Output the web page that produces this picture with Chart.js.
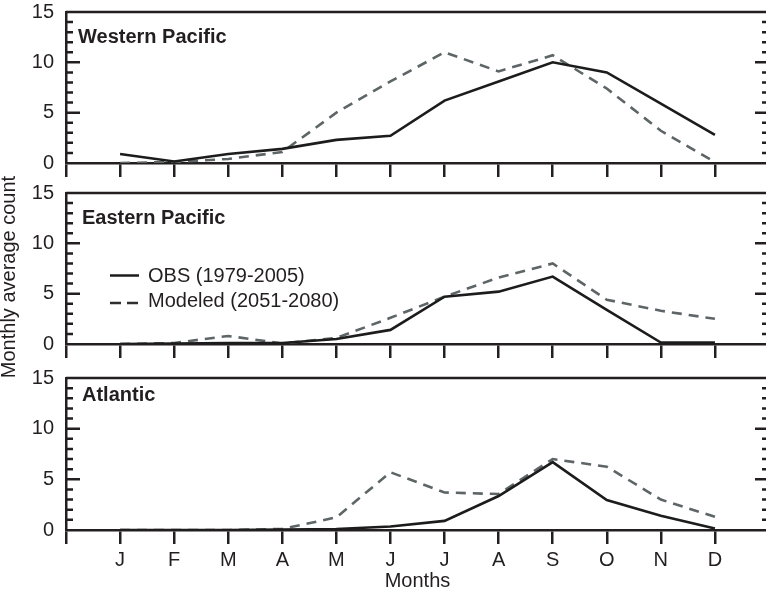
<!DOCTYPE html>
<html>
<head>
<meta charset="utf-8">
<script src="https://cdn.jsdelivr.net/npm/chart.js@4.4.0/dist/chart.umd.min.js"></script>
<style>
  html, body { margin: 0; padding: 0; background: #fff; overflow: hidden; }
  body { width: 766px; height: 593px; position: relative; }
  canvas { position: absolute; left: 0; }
</style>
</head>
<body>
<canvas id="wp" width="772" height="190" style="top:0px"></canvas>
<canvas id="ep" width="772" height="250" style="top:150px"></canvas>
<canvas id="at" width="772" height="233" style="top:360px"></canvas>
<script>
// meses e contagens medias mensais por bacia
var meses = ["J", "F", "M", "A", "M", "J", "J", "A", "S", "O", "N", "D"];
var yTicks = [0, 5, 10, 15];

var wpObs = [0.9, 0.15, 0.9, 1.4, 2.3, 2.7, 6.2, 8.1, 10.0, 9.0, 5.9, 2.8];
var wpMod = [0.0, 0.1, 0.4, 1.1, 5.0, 8.1, 11.0, 9.1, 10.7, 7.4, 3.2, 0.1];

var epObs = [0.0, 0.05, 0.1, 0.1, 0.5, 1.4, 4.7, 5.2, 6.7, 3.4, 0.15, 0.15];
var epMod = [0.0, 0.1, 0.8, 0.05, 0.6, 2.6, 4.7, 6.6, 8.0, 4.4, 3.3, 2.5];

var atObs = [0.0, 0.0, 0.0, 0.05, 0.1, 0.35, 0.9, 3.35, 6.7, 2.95, 1.4, 0.15];
var atMod = [0.0, 0.0, 0.0, 0.1, 1.25, 5.7, 3.7, 3.55, 7.0, 6.25, 3.0, 1.3];

var legendas = ["OBS (1979-2005)", "Modeled (2051-2080)"];

var cor = "#231f20";
var corObs = "#1c1c1c";
var corMod = "#5d6567";

Chart.defaults.font.family = "'Liberation Sans', Arial, Helvetica, sans-serif";
Chart.defaults.font.size = 20;
Chart.defaults.color = cor;

function pontos(vals) {
    return vals.map(function (v, i) { return { x: i + 1, y: v }; });
}

// moldura de cima/direita, ticks internos e textos do painel
function pluginPainel(cfg) {
    return {
        id: "painel",
        afterDraw: function (chart) {
            var ctx = chart.ctx;
            var a = chart.chartArea;
            var y = chart.scales.y;
            ctx.save();
            ctx.strokeStyle = cor;
            ctx.lineWidth = 2.5;
            ctx.beginPath();
            ctx.moveTo(a.left, a.top);
            ctx.lineTo(a.right, a.top);
            ctx.moveTo(a.right, a.top);
            ctx.lineTo(a.right, a.bottom);
            for (var v = 1; v < 15; v++) {
                var py = y.getPixelForValue(v);
                var len = yTicks.indexOf(v) >= 0 ? 14 : 7;
                ctx.moveTo(a.left, py);
                ctx.lineTo(a.left + len, py);
                ctx.moveTo(a.right, py);
                ctx.lineTo(a.right - len, py);
            }
            ctx.stroke();

            ctx.fillStyle = cor;
            ctx.textAlign = "left";
            ctx.textBaseline = "alphabetic";
            ctx.font = "bold 20px 'Liberation Sans', Arial, sans-serif";
            ctx.fillText(cfg.titulo, a.left + cfg.tx, a.top + cfg.ty);

            ctx.font = "20px 'Liberation Sans', Arial, sans-serif";
            if (cfg.legenda) {
                ctx.lineWidth = 2.5;
                ctx.strokeStyle = corObs;
                ctx.beginPath();
                ctx.moveTo(a.left + 44, a.top + 82.5);
                ctx.lineTo(a.left + 73, a.top + 82.5);
                ctx.stroke();
                ctx.setLineDash([11, 6]);
                ctx.strokeStyle = "#2e2e2e";
                ctx.beginPath();
                ctx.moveTo(a.left + 44, a.top + 110);
                ctx.lineTo(a.left + 73, a.top + 110);
                ctx.stroke();
                ctx.setLineDash([]);
                ctx.fillText(legendas[0], a.left + 82, a.top + 88.5);
                ctx.fillText(legendas[1], a.left + 82, a.top + 113.5);

                // titulo do eixo y, centrado na figura
                ctx.save();
                ctx.translate(15, a.top + 84);
                ctx.rotate(-Math.PI / 2);
                ctx.textAlign = "center";
                ctx.fillText("Monthly average count", 0, 0);
                ctx.restore();
            }
            if (cfg.mostraMeses) {
                ctx.textAlign = "center";
                ctx.fillText("Months", (a.left + a.right) / 2, a.bottom + 56.5);
            }
            ctx.restore();
        }
    };
}

function criarPainel(id, obs, mod, cfg) {
    new Chart(id, {
        type: "line",
        data: {
            datasets: [{
                label: legendas[0],
                data: pontos(obs),
                borderColor: corObs,
                borderWidth: 2.6,
                pointRadius: 0,
                tension: 0,
                fill: false,
                order: 0
            }, {
                label: legendas[1],
                data: pontos(mod),
                borderColor: corMod,
                borderWidth: 2.6,
                borderDash: [10, 7],
                pointRadius: 0,
                tension: 0,
                fill: false,
                order: 1
            }]
        },
        options: {
            responsive: false,
            animation: false,
            events: [],
            layout: { padding: { top: cfg.padTop, right: 3, bottom: 0, left: 0 } },
            plugins: {
                legend: { display: false },
                tooltip: { enabled: false }
            },
            scales: {
                x: {
                    type: "linear",
                    min: 0,
                    max: 13,
                    afterFit: function (s) {
                        s.height = cfg.xAltura;
                        s.paddingLeft = 0;
                        s.paddingRight = 0;
                    },
                    ticks: {
                        stepSize: 1,
                        autoSkip: false,
                        maxRotation: 0,
                        display: cfg.mostraMeses,
                        padding: 4,
                        callback: function (v) { return meses[v - 1] || ""; }
                    },
                    grid: { drawOnChartArea: false, drawTicks: true, tickLength: 14, lineWidth: 2.5, color: cor },
                    border: { display: true, width: 2.5, color: cor }
                },
                y: {
                    min: 0,
                    max: 15,
                    afterFit: function (s) {
                        s.width = 66;
                        s.paddingTop = 0;
                        s.paddingBottom = 0;
                    },
                    ticks: {
                        stepSize: 1,
                        autoSkip: false,
                        padding: 12,
                        callback: function (v) { return yTicks.indexOf(v) >= 0 ? v : ""; }
                    },
                    grid: { drawOnChartArea: false, drawTicks: false },
                    border: { display: true, width: 2.5, color: cor }
                }
            }
        },
        plugins: [pluginPainel(cfg)]
    });
}

criarPainel("wp", wpObs, wpMod, { titulo: "Western Pacific", tx: 12, ty: 31, padTop: 12, xAltura: 27, mostraMeses: false });
criarPainel("ep", epObs, epMod, { titulo: "Eastern Pacific", tx: 16, ty: 31, padTop: 43, xAltura: 56, mostraMeses: false, legenda: true });
criarPainel("at", atObs, atMod, { titulo: "Atlantic", tx: 16, ty: 23, padTop: 18, xAltura: 63, mostraMeses: true });
</script>
</body>
</html>
